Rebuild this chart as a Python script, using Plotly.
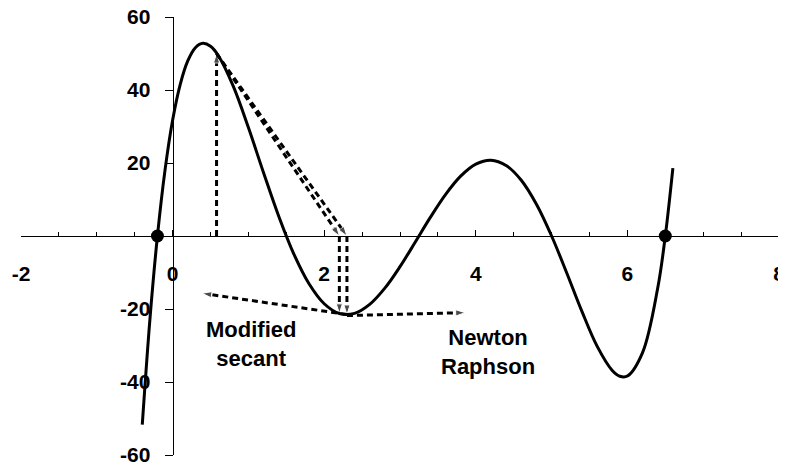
import plotly.graph_objects as go

# Curve f(x)
curve_x = [-0.4, -0.3, -0.2, -0.1, 0.0, 0.1, 0.2, 0.3, 0.4, 0.5, 0.6, 0.8, 1.0, 1.2, 1.4,
           1.6, 1.8, 2.0, 2.2, 2.4, 2.6, 2.8, 3.0, 3.2, 3.4, 3.6, 3.8, 4.0, 4.2, 4.4,
           4.6, 4.8, 5.0, 5.2, 5.4, 5.6, 5.8, 5.9, 6.0, 6.2, 6.4, 6.5, 6.6]
curve_y = [-51.68, -23.03, 0.0, 18.04, 31.69, 41.49, 47.96, 51.58, 52.78, 51.98, 49.53,
           41.06, 29.7, 17.34, 5.43, -4.95, -13.08, -18.56, -21.24, -21.20, -18.74,
           -14.29, -8.4, -1.72, 5.09, 11.34, 16.39, 19.69, 20.77, 19.33, 15.27, 8.70,
           0.0, -10.13, -20.66, -30.18, -36.84, -38.41, -38.36, -31.94, -14.26, 0.0, 18.59]

# Roots marked with dots
root_x = [-0.2, 6.5]
root_y = [0, 0]

# Dashed arrows (start -> end)
arrow_x0 = [0.58, 0.58, 0.58, 2.2, 2.3, 2.3, 2.3]
arrow_y0 = [0.0, 50.0, 50.0, 0.0, 0.0, -21.5, -21.8]
arrow_x1 = [0.58, 2.2, 2.3, 2.2, 2.3, 0.39, 3.86]
arrow_y1 = [50.0, 0.0, 0.0, -21.2, -21.5, -15.7, -21.0]

# Text labels
label_text = ["Modified<br>secant", "Newton<br>Raphson"]
label_x = [1.03, 4.16]
label_y = [-29.6, -31.7]

x_range = [-2, 8]
x_ticks = [-2, 0, 2, 4, 6, 8]
x_ticktext = ["-2", "0", "2", "4", "6", "8"]
y_range = [-60, 60]
y_ticks = [-60, -40, -20, 20, 40, 60]
y_ticktext = ["-60", "-40", "-20", "20", "40", "60"]

FONT = "Liberation Sans, Arial, sans-serif"
FS_TICK = 21
FS_LABEL = 22

fig = go.Figure()

for x0, y0, x1, y1 in zip(arrow_x0, arrow_y0, arrow_x1, arrow_y1):
    fig.add_trace(go.Scatter(
        x=[x0, x1], y=[y0, y1], mode="lines+markers",
        line=dict(color="black", width=3, dash="6px,4px"),
        marker=dict(symbol="arrow", size=[0, 10], angleref="previous", color="black"),
        showlegend=False, hoverinfo="skip", cliponaxis=False))

fig.add_trace(go.Scatter(
    x=curve_x, y=curve_y, mode="lines",
    line=dict(color="black", width=3, shape="spline", smoothing=1),
    showlegend=False, cliponaxis=False))

fig.add_trace(go.Scatter(
    x=root_x, y=root_y, mode="markers",
    marker=dict(color="black", size=13),
    showlegend=False, cliponaxis=False))

for t, x, y in zip(label_text, label_x, label_y):
    fig.add_annotation(x=x, y=y, text=t, showarrow=False,
                       font=dict(family=FONT, size=FS_LABEL, color="black", weight="bold"))

# page body has an 8px margin, so the figure is sized to end at the window edge
fig.update_layout(
    width=778, height=458,
    margin=dict(l=13, r=7, t=9, b=11, autoexpand=False),
    paper_bgcolor="white", plot_bgcolor="white",
    font=dict(family=FONT, size=FS_TICK, color="black", weight="bold"),
    xaxis=dict(range=x_range, anchor="free", position=0.5, automargin=False,
               showline=True, linecolor="black", linewidth=1,
               showgrid=False, zeroline=False,
               tickvals=x_ticks, ticktext=x_ticktext,
               ticks="inside", ticklen=6, tickcolor="black",
               minor=dict(dtick=0.5, tick0=0, ticks="inside", ticklen=4, tickcolor="black", showgrid=False),
               ticklabelstandoff=19, ticklabeloverflow="allow",
               tickfont=dict(family=FONT, size=FS_TICK, color="black", weight="bold")),
    yaxis=dict(range=y_range, anchor="free", position=0.2, automargin=False,
               showline=True, linecolor="black", linewidth=1,
               showgrid=False, zeroline=False,
               tickvals=y_ticks, ticktext=y_ticktext,
               ticks="outside", ticklen=8, tickcolor="black",
               ticklabelstandoff=10, ticklabeloverflow="allow",
               tickfont=dict(family=FONT, size=FS_TICK, color="black", weight="bold")),
)

fig.write_html("out.html")
